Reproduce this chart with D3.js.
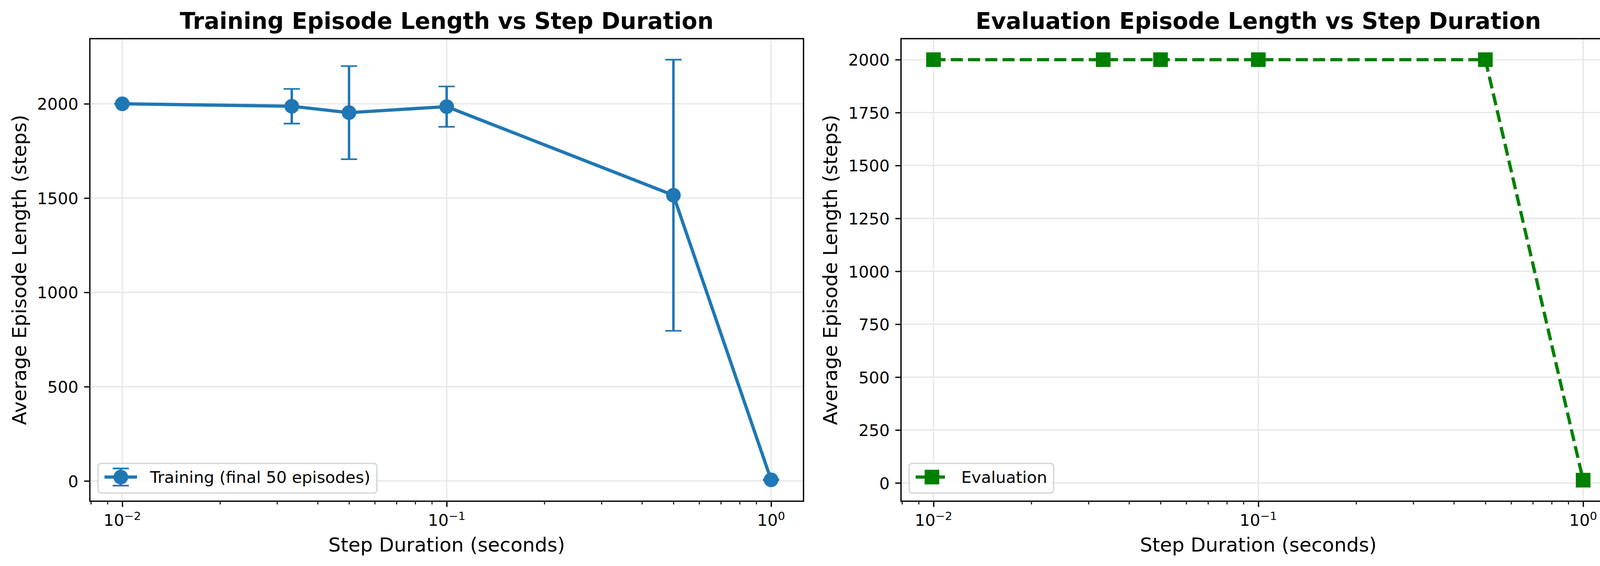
<!DOCTYPE html>
<html>
<head>
<meta charset="utf-8">
<script src="https://cdn.jsdelivr.net/npm/d3@7/dist/d3.min.js"></script>
<style>
  html, body { margin: 0; padding: 0; background: #ffffff; }
  svg { display: block; }
  text { font-family: "DejaVu Sans", sans-serif; }
</style>
</head>
<body>
<div id="chart"></div>
<script>
// ---------------- data ----------------
const stepDurations = [0.01, 0.0333, 0.05, 0.1, 0.5, 1.0];
const trainMean = [2000, 1987, 1953, 1985, 1515, 6];
const trainErr = [0, 92, 247, 107, 719, 2];
const evalMean = [2000, 2000, 2000, 2000, 2000, 13];
const xTickExponents = [-2, -1, 0];
const trainYTicks = [0, 500, 1000, 1500, 2000];
const evalYTicks = [0, 250, 500, 750, 1000, 1250, 1500, 1750, 2000];
const titles = ["Training Episode Length vs Step Duration", "Evaluation Episode Length vs Step Duration"];
const xLabel = "Step Duration (seconds)";
const yLabel = "Average Episode Length (steps)";
const legendLabels = ["Training (final 50 episodes)", "Evaluation"];

// ---------------- layout ----------------
const W = 4164, H = 1450;
const PT = 300 / 72;               // px per point (dpi 300)
const blue = "#1f77b4", green = "#008000";
const gridColor = "#e7e7e7";
const fsTitle = 14 * PT, fsLabel = 12 * PT, fsTick = 10 * PT, fsLegend = 10 * PT;

const svg = d3.select("#chart").append("svg")
  .attr("width", W).attr("height", H)
  .attr("viewBox", `0 0 ${W} ${H}`);
svg.append("rect").attr("width", W).attr("height", H).attr("fill", "#fff");

const panels = [
  { x0: 230, x1: 2057, y0: 99, y1: 1284 },
  { x0: 2306.6, x1: 4136, y0: 99, y1: 1284 }
];

function autoDomain(lo, hi) {
  const r = hi - lo;
  return [lo - 0.05 * r, hi + 0.05 * r];
}

function drawPanel(p, idx) {
  const g = svg.append("g");
  const x = d3.scaleLog().domain([Math.pow(10, -2.1), Math.pow(10, 0.1)]).range([p.x0, p.x1]);
  let lo, hi;
  if (idx === 0) {
    lo = d3.min(trainMean.map((m, i) => m - trainErr[i]));
    hi = d3.max(trainMean.map((m, i) => m + trainErr[i]));
  } else {
    lo = d3.min(evalMean); hi = d3.max(evalMean);
  }
  const y = d3.scaleLinear().domain(autoDomain(lo, hi)).range([p.y1, p.y0]);
  const yTicks = idx === 0 ? trainYTicks : evalYTicks;
  const xMajor = xTickExponents.map(e => Math.pow(10, e));
  const xMinor = [];
  for (let e = -3; e <= 0; e++) for (let k = 2; k <= 9; k++) {
    const v = k * Math.pow(10, e);
    if (v >= x.domain()[0] && v <= x.domain()[1]) xMinor.push(v);
  }

  // grid
  const grid = g.append("g");
  grid.selectAll(".gx").data(xMajor).enter().append("line")
    .attr("x1", d => x(d)).attr("x2", d => x(d))
    .attr("y1", p.y0).attr("y2", p.y1)
    .attr("stroke", gridColor).attr("stroke-width", 0.8 * PT);
  grid.selectAll(".gy").data(yTicks).enter().append("line")
    .attr("x1", p.x0).attr("x2", p.x1)
    .attr("y1", d => y(d)).attr("y2", d => y(d))
    .attr("stroke", gridColor).attr("stroke-width", 0.8 * PT);

  // data
  const pts = stepDurations.map((s, i) => ({ s, m: idx === 0 ? trainMean[i] : evalMean[i], e: idx === 0 ? trainErr[i] : 0 }));
  const line = d3.line().x(d => x(d.s)).y(d => y(d.m));
  if (idx === 0) {
    const eb = g.append("g");
    eb.selectAll(".bar").data(pts).enter().append("line")
      .attr("x1", d => x(d.s)).attr("x2", d => x(d.s))
      .attr("y1", d => y(d.m - d.e)).attr("y2", d => y(d.m + d.e))
      .attr("stroke", blue).attr("stroke-width", 1.5 * PT);
    const caps = [];
    pts.forEach(d => { caps.push({ s: d.s, v: d.m - d.e }); caps.push({ s: d.s, v: d.m + d.e }); });
    eb.selectAll(".cap").data(caps).enter().append("line")
      .attr("x1", d => x(d.s) - 5 * PT).attr("x2", d => x(d.s) + 5 * PT)
      .attr("y1", d => y(d.v)).attr("y2", d => y(d.v))
      .attr("stroke", blue).attr("stroke-width", 1 * PT);
    g.append("path").datum(pts).attr("d", line)
      .attr("fill", "none").attr("stroke", blue).attr("stroke-width", 2 * PT)
      .attr("stroke-linejoin", "round").attr("stroke-linecap", "butt");
    g.selectAll(".mk").data(pts).enter().append("circle")
      .attr("cx", d => x(d.s)).attr("cy", d => y(d.m)).attr("r", 4 * PT)
      .attr("fill", blue).attr("stroke", blue).attr("stroke-width", 1 * PT);
  } else {
    g.append("path").datum(pts).attr("d", line)
      .attr("fill", "none").attr("stroke", green).attr("stroke-width", 2 * PT)
      .attr("stroke-dasharray", `${7.4 * PT} ${3.2 * PT}`)
      .attr("stroke-linejoin", "round").attr("stroke-linecap", "butt");
    const sq = 8 * PT;
    g.selectAll(".mk").data(pts).enter().append("rect")
      .attr("x", d => x(d.s) - sq / 2).attr("y", d => y(d.m) - sq / 2)
      .attr("width", sq).attr("height", sq)
      .attr("fill", green).attr("stroke", green).attr("stroke-width", 1 * PT);
  }

  // y axis
  const yAxis = d3.axisLeft(y).tickValues(yTicks).tickSize(3.5 * PT).tickPadding(3.5 * PT).tickFormat(d3.format("d"));
  const ya = g.append("g").attr("transform", `translate(${p.x0},0)`).call(yAxis);
  ya.select(".domain").remove();
  ya.selectAll(".tick line").attr("stroke", "#000").attr("stroke-width", 0.8 * PT);
  ya.selectAll(".tick text").attr("font-size", fsTick).attr("font-family", "DejaVu Sans").attr("fill", "#000").attr("dy", "0.36em");

  // x axis major
  const xAxis = d3.axisBottom(x).tickValues(xMajor).tickSize(3.5 * PT).tickFormat("");
  const xa = g.append("g").attr("transform", `translate(0,${p.y1})`).call(xAxis);
  xa.select(".domain").remove();
  xa.selectAll(".tick line").attr("stroke", "#000").attr("stroke-width", 0.8 * PT);
  // x axis minor
  const xAxisMinor = d3.axisBottom(x).tickValues(xMinor).tickSize(2 * PT).tickFormat("");
  const xm = g.append("g").attr("transform", `translate(0,${p.y1})`).call(xAxisMinor);
  xm.select(".domain").remove();
  xm.selectAll(".tick line").attr("stroke", "#000").attr("stroke-width", 0.6 * PT);
  // x tick labels with superscripts
  const labs = g.selectAll(".xl").data(xTickExponents).enter().append("text")
    .attr("x", d => x(Math.pow(10, d))).attr("y", p.y1 + 63)
    .attr("text-anchor", "middle").attr("font-size", fsTick).attr("fill", "#000");
  labs.append("tspan").text("10");
  labs.append("tspan").attr("font-size", fsTick * 0.7).attr("dy", -15)
    .text(d => (d < 0 ? "\u2212" + Math.abs(d) : String(d)));

  // frame
  g.append("rect").attr("x", p.x0).attr("y", p.y0)
    .attr("width", p.x1 - p.x0).attr("height", p.y1 - p.y0)
    .attr("fill", "none").attr("stroke", "#000").attr("stroke-width", 0.8 * PT);

  // title
  g.append("text").attr("x", (p.x0 + p.x1) / 2).attr("y", 74)
    .attr("text-anchor", "middle").attr("font-size", fsTitle).attr("font-weight", "bold")
    .attr("fill", "#000").text(titles[idx]);
  // x label
  g.append("text").attr("x", (p.x0 + p.x1) / 2).attr("y", 1413)
    .attr("text-anchor", "middle").attr("font-size", fsLabel).attr("fill", "#000").text(xLabel);
  // y label
  const ylx = p.x0 - 163.5, yly = (p.y0 + p.y1) / 2;
  g.append("text").attr("transform", `translate(${ylx},${yly}) rotate(-90)`)
    .attr("text-anchor", "middle").attr("font-size", fsLabel).attr("fill", "#000").text(yLabel);

  // legend
  const lg = g.append("g");
  const fx = p.x0 + 0.5 * fsLegend, fyBottom = p.y1 - 0.5 * fsLegend, fh = 76;
  const fy = fyBottom - fh;
  const frame = lg.append("rect").attr("x", fx).attr("y", fy).attr("height", fh)
    .attr("rx", 8).attr("ry", 8)
    .attr("fill", "#fff").attr("fill-opacity", 0.8)
    .attr("stroke", "#d5d5d5").attr("stroke-width", 0.8 * PT);
  const hx0 = fx + 0.4 * fsLegend, hx1 = hx0 + 2 * fsLegend, hc = (hx0 + hx1) / 2, hy = fy + fh / 2 - 3;
  const tx = hx1 + 0.8 * fsLegend;
  if (idx === 0) {
    lg.append("line").attr("x1", hc).attr("x2", hc).attr("y1", hy - 22).attr("y2", hy + 22)
      .attr("stroke", blue).attr("stroke-width", 1.5 * PT);
    [hy - 22, hy + 22].forEach(cy => lg.append("line").attr("x1", hc - 5 * PT).attr("x2", hc + 5 * PT)
      .attr("y1", cy).attr("y2", cy).attr("stroke", blue).attr("stroke-width", 1 * PT));
    lg.append("line").attr("x1", hx0).attr("x2", hx1).attr("y1", hy).attr("y2", hy)
      .attr("stroke", blue).attr("stroke-width", 2 * PT);
    lg.append("circle").attr("cx", hc).attr("cy", hy).attr("r", 4 * PT)
      .attr("fill", blue).attr("stroke", blue).attr("stroke-width", 1 * PT);
  } else {
    lg.append("line").attr("x1", hx0).attr("x2", hx1).attr("y1", hy).attr("y2", hy)
      .attr("stroke", green).attr("stroke-width", 2 * PT)
      .attr("stroke-dasharray", `${7.4 * PT} ${3.2 * PT}`);
    const sq = 8 * PT;
    lg.append("rect").attr("x", hc - sq / 2).attr("y", hy - sq / 2).attr("width", sq).attr("height", sq)
      .attr("fill", green).attr("stroke", green).attr("stroke-width", 1 * PT);
  }
  const lt = lg.append("text").attr("x", tx).attr("y", hy + 15)
    .attr("font-size", fsLegend).attr("fill", "#000").text(legendLabels[idx]);
  const tw = lt.node().getComputedTextLength();
  frame.attr("width", tx + tw + 0.4 * fsLegend - fx);
}

panels.forEach(drawPanel);
</script>
</body>
</html>
